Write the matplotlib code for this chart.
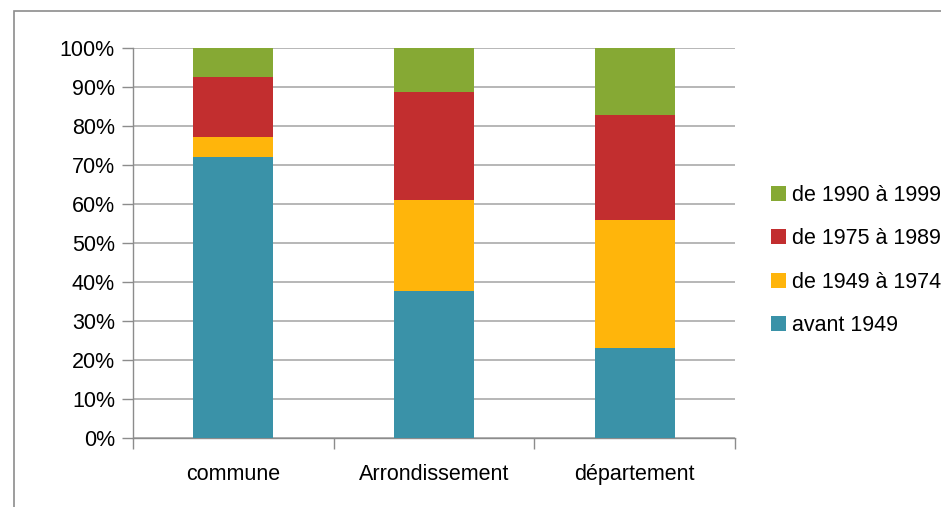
import matplotlib
matplotlib.use("Agg")
import matplotlib.pyplot as plt
from matplotlib.patches import Rectangle
from matplotlib.ticker import FixedLocator, FuncFormatter
import numpy as np

categories = ["commune", "Arrondissement", "département"]
series_names = ["avant 1949", "de 1949 à 1974", "de 1975 à 1989", "de 1990 à 1999"]
avant_1949 = [72.0, 37.6, 23.0]
de_1949_1974 = [5.2, 23.3, 32.8]
de_1975_1989 = [15.4, 27.8, 27.0]
de_1990_1999 = [7.4, 11.3, 17.2]
colors = ["#3a92a8", "#ffb50b", "#c22e2f", "#86a934"]
y_ticks = list(range(0, 101, 10))

plt.rcParams['font.family'] = ['Liberation Sans', 'DejaVu Sans']

W, H = 941, 507
fig = plt.figure(figsize=(W / 100, H / 100), dpi=100)
ax = fig.add_axes([133 / W, 1 - 438 / H, (735 - 133) / W, (438 - 48) / H])

# outer frame
fig.patches.append(Rectangle((14 / W, -0.1), 2, 1 - 11 / H + 0.1, transform=fig.transFigure,
                             fill=False, edgecolor="#8c8c8c", linewidth=1.2))

series = [avant_1949, de_1949_1974, de_1975_1989, de_1990_1999]
x = np.arange(len(categories))
bottom = np.zeros(len(categories))
bars = []
for vals, name, c in zip(series, series_names, colors):
    b = ax.bar(x, vals, bottom=bottom, width=0.40, color=c, label=name, zorder=3)
    bars.append(b)
    bottom += np.array(vals)

ax.set_xlim(-0.5, len(categories) - 0.5)
ax.set_ylim(0, 100)
ax.set_yticks(y_ticks)
ax.yaxis.set_major_formatter(FuncFormatter(lambda v, p: f"{int(v)}%"))
ax.set_xticks(x)
ax.set_xticklabels(categories)
ax.xaxis.set_minor_locator(FixedLocator(np.arange(-0.5, len(categories), 1.0)))
ax.tick_params(axis="x", which="major", length=0, pad=19, labelsize=15.5, colors="#000000")
ax.tick_params(axis="x", which="minor", length=8, width=1, color="#8c8c8c")
ax.tick_params(axis="y", length=8, width=1, color="#8c8c8c", pad=5, labelsize=15.5)
ax.grid(axis="y", color="#aaaaaa", linewidth=1.2, zorder=0)
ax.set_axisbelow(True)
for s in ["top", "right"]:
    ax.spines[s].set_visible(False)
for s in ["left", "bottom"]:
    ax.spines[s].set_color("#8c8c8c")
    ax.spines[s].set_linewidth(1)

handles = bars[::-1]
labels = series_names[::-1]
leg = fig.legend(handles, labels, loc="upper left", bbox_to_anchor=(762 / W, 1 - 176 / H),
                 frameon=False, fontsize=15.5, handlelength=0.7, handleheight=0.7,
                 handletextpad=0.3, labelspacing=1.05, borderaxespad=0)

fig.savefig("out.png", dpi=100)
